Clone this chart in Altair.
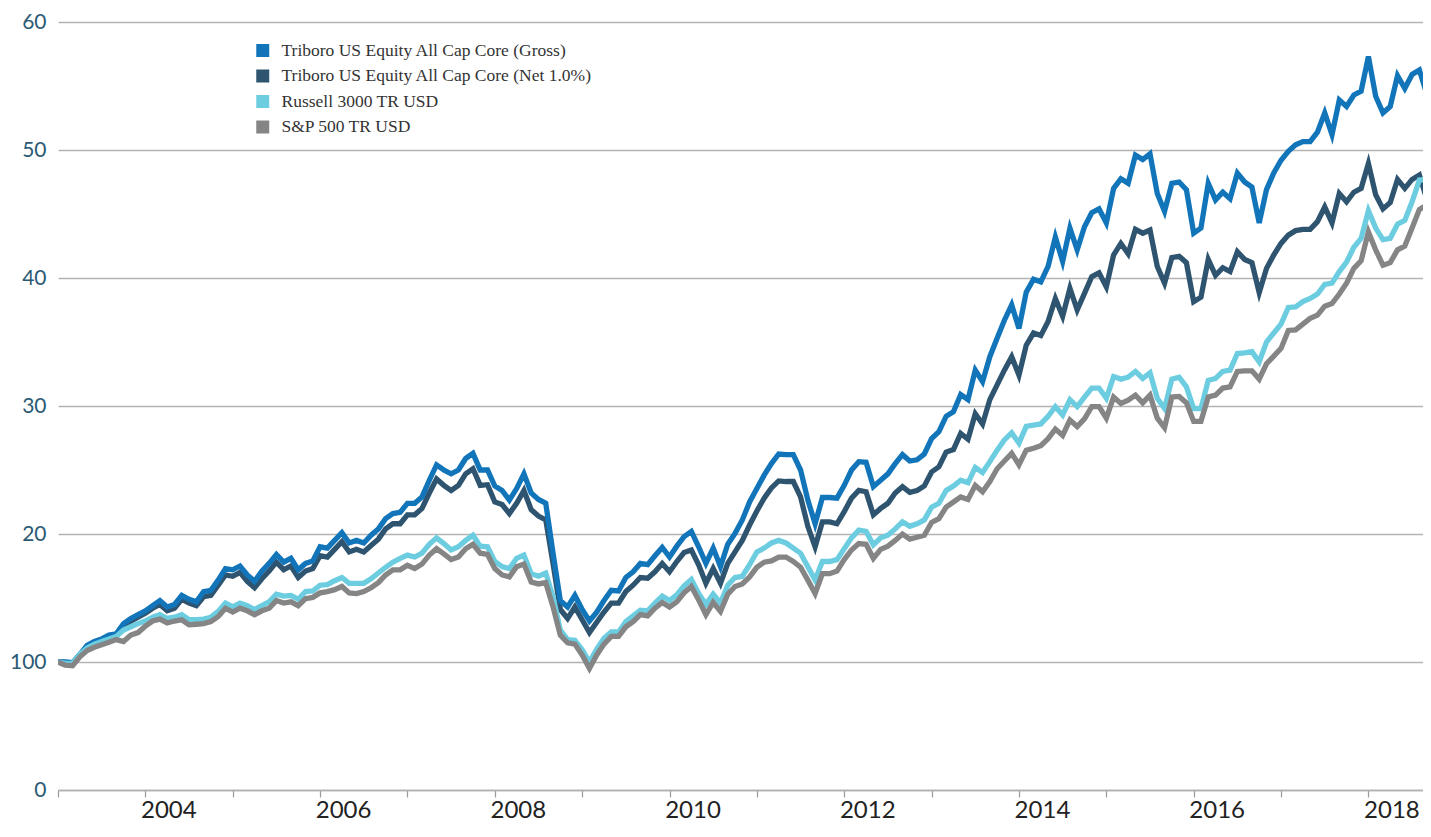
import altair as alt
import pandas as pd

SERIES = [
    "Triboro US Equity All Cap Core (Gross)",
    "Triboro US Equity All Cap Core (Net 1.0%)",
    "Russell 3000 TR USD",
    "S&P 500 TR USD",
]
COLORS = ["#1275ba", "#2e5470", "#6dcde0", "#858585"]
START_YEAR = 2003  # monthly values, first point January 2003

gross = [
    10.0, 10.0, 9.95, 10.6, 11.3, 11.6, 11.8, 12.1, 12.2, 13.0, 13.4, 13.7, 14.0, 14.4, 14.8, 14.3,
    14.5, 15.2, 14.9, 14.7, 15.5, 15.6, 16.4, 17.3, 17.2, 17.5, 16.8, 16.3, 17.1, 17.7, 18.4, 17.8,
    18.1, 17.2, 17.7, 17.9, 19.0, 18.9, 19.5, 20.1, 19.3, 19.5, 19.3, 19.9, 20.4, 21.2, 21.6, 21.7,
    22.4, 22.4, 22.9, 24.2, 25.4, 25.0, 24.7, 25.0, 25.9, 26.3, 25.0, 25.0, 23.75, 23.4, 22.65, 23.55,
    24.7, 23.2, 22.7, 22.4, 18.5, 14.8, 14.3, 15.2, 14.1, 13.2, 13.9, 14.8, 15.6, 15.55, 16.6, 17.05,
    17.7, 17.6, 18.3, 18.95, 18.2, 19.05, 19.8, 20.2, 19.0, 17.7, 18.9, 17.45, 19.2, 20.05, 21.1, 22.5,
    23.55, 24.6, 25.5, 26.25, 26.2, 26.2, 25.0, 22.65, 20.8, 22.85, 22.85, 22.8, 23.8, 25.0, 25.65, 25.6,
    23.7, 24.2, 24.7, 25.5, 26.2, 25.7, 25.8, 26.25, 27.45, 28.0, 29.2, 29.55, 30.9, 30.5, 32.8, 31.9,
    33.85, 35.3, 36.7, 37.9, 36.05, 38.9, 39.9, 39.7, 40.9, 43.2, 41.3, 43.9, 42.2, 44.0,
    45.1, 45.4, 44.3, 47.0, 47.75, 47.4, 49.6, 49.25, 49.7, 46.6, 45.2, 47.4, 47.5, 46.9, 43.5, 43.9,
    47.4, 46.1, 46.7, 46.2, 48.2, 47.5, 47.1, 44.3, 46.9, 48.2, 49.2, 49.9, 50.4, 50.65, 50.65, 51.4,
    52.9, 51.2, 53.9, 53.4, 54.3, 54.6, 57.3, 54.2, 52.9, 53.4, 55.8, 54.8, 55.9, 56.25, 54.4,
]
net = [
    10.0, 9.95, 9.9, 10.5, 11.2, 11.5, 11.7, 11.9, 12.0, 12.8, 13.2, 13.5, 13.8, 14.2, 14.5, 14.0,
    14.2, 14.9, 14.6, 14.4, 15.1, 15.2, 16.0, 16.8, 16.7, 17.0, 16.3, 15.8, 16.5, 17.1, 17.8, 17.2,
    17.5, 16.6, 17.1, 17.3, 18.3, 18.2, 18.8, 19.4, 18.6, 18.8, 18.6, 19.1, 19.6, 20.4, 20.8, 20.8,
    21.5, 21.5, 22.0, 23.2, 24.3, 23.8, 23.4, 23.8, 24.7, 25.1, 23.8, 23.85, 22.5, 22.3, 21.6, 22.4,
    23.4, 21.9, 21.4, 21.1, 17.7, 14.1, 13.4, 14.3, 13.3, 12.3, 13.1, 13.9, 14.6, 14.6, 15.5, 16.0,
    16.6, 16.55, 17.05, 17.7, 17.05, 17.85, 18.55, 18.75, 17.6, 16.15, 17.3, 16.15, 17.7, 18.6, 19.5, 20.7,
    21.8, 22.8, 23.6, 24.15, 24.1, 24.1, 22.9, 20.6, 19.0, 20.95, 20.95, 20.8, 21.75, 22.8, 23.4, 23.3,
    21.5, 22.0, 22.4, 23.2, 23.7, 23.25, 23.4, 23.75, 24.85, 25.25, 26.4, 26.6, 27.85, 27.4, 29.4, 28.6,
    30.5, 31.65, 32.8, 33.85, 32.4, 34.75, 35.7, 35.5, 36.6, 38.4, 37.0, 39.2, 37.5, 38.8,
    40.1, 40.4, 39.3, 41.8, 42.7, 41.9, 43.8, 43.5, 43.75, 40.9, 39.6, 41.6, 41.7, 41.2, 38.15, 38.5,
    41.45, 40.2, 40.8, 40.5, 42.05, 41.45, 41.2, 38.85, 40.75, 41.8, 42.7, 43.35, 43.7, 43.8, 43.8, 44.4,
    45.55, 44.3, 46.6, 45.95, 46.7, 47.0, 48.95, 46.5, 45.4, 45.9, 47.7, 47.0, 47.7, 48.05, 46.2,
]
russell = [
    10.0, 9.9, 9.9, 10.6, 11.1, 11.4, 11.6, 11.8, 12.0, 12.5, 12.75, 13.0, 13.2, 13.5, 13.7, 13.4,
    13.5, 13.7, 13.3, 13.3, 13.35, 13.5, 13.95, 14.6, 14.3, 14.6, 14.4, 14.1, 14.4, 14.7, 15.3, 15.15,
    15.2, 14.9, 15.5, 15.55, 16.0, 16.05, 16.35, 16.6, 16.15, 16.15, 16.15, 16.5, 16.95, 17.4, 17.8, 18.1,
    18.35, 18.2, 18.5, 19.2, 19.7, 19.25, 18.75, 19.0, 19.5, 19.9, 19.05, 19.0, 17.85, 17.45, 17.3, 18.1,
    18.35, 16.9, 16.7, 16.95, 15.1, 12.5, 11.75, 11.7, 10.95, 10.0, 11.0, 11.85, 12.35, 12.35, 13.15, 13.6,
    14.05, 14.0, 14.6, 15.15, 14.8, 15.25, 15.95, 16.45, 15.35, 14.5, 15.3, 14.6, 16.0, 16.6, 16.7, 17.6,
    18.6, 18.9, 19.3, 19.5, 19.3, 18.9, 18.5, 17.45, 16.4, 17.85, 17.85, 18.0, 18.85, 19.7, 20.3, 20.2,
    19.15, 19.7, 19.9, 20.4, 20.95, 20.6, 20.8, 21.1, 22.1, 22.4, 23.4, 23.75, 24.2, 24.0, 25.2, 24.8,
    25.65, 26.55, 27.35, 27.9, 27.1, 28.4, 28.5, 28.6, 29.2, 29.95, 29.3, 30.5, 29.95, 30.7,
    31.4, 31.4, 30.6, 32.3, 32.1, 32.25, 32.7, 32.15, 32.6, 30.6, 29.8, 32.1, 32.25, 31.5, 29.8, 29.8,
    32.0, 32.15, 32.7, 32.8, 34.1, 34.15, 34.25, 33.45, 35.0, 35.7, 36.4, 37.7, 37.75, 38.15, 38.4, 38.75,
    39.5, 39.6, 40.5, 41.25, 42.4, 43.1, 45.25, 43.9, 43.0, 43.1, 44.2, 44.5, 45.95, 47.65, 47.7,
]
sp500 = [
    10.0, 9.75, 9.7, 10.4, 10.9, 11.15, 11.35, 11.55, 11.75, 11.6, 12.1, 12.3, 12.8, 13.2, 13.35, 13.05,
    13.2, 13.3, 12.9, 12.95, 13.0, 13.15, 13.55, 14.2, 13.9, 14.2, 14.0, 13.7, 14.0, 14.2, 14.8, 14.6,
    14.7, 14.4, 14.95, 15.05, 15.4, 15.5, 15.65, 15.9, 15.4, 15.35, 15.5, 15.8, 16.2, 16.8, 17.2, 17.2,
    17.55, 17.3, 17.65, 18.35, 18.85, 18.45, 18.0, 18.2, 18.85, 19.2, 18.5, 18.4, 17.3, 16.8, 16.65, 17.45,
    17.65, 16.25, 16.1, 16.2, 14.3, 12.1, 11.5, 11.4, 10.55, 9.5, 10.55, 11.4, 12.0, 12.0, 12.75, 13.15,
    13.7, 13.6, 14.2, 14.65, 14.3, 14.7, 15.4, 15.9, 14.85, 13.7, 14.65, 13.95, 15.3, 15.9, 16.1, 16.65,
    17.4, 17.8, 17.9, 18.2, 18.2, 17.85, 17.4, 16.4, 15.35, 16.9, 16.9, 17.1, 18.0, 18.75, 19.25, 19.2,
    18.1, 18.8, 19.05, 19.5, 20.0, 19.6, 19.75, 19.9, 20.9, 21.2, 22.1, 22.5, 22.9, 22.7, 23.8, 23.3,
    24.1, 25.1, 25.7, 26.3, 25.4, 26.55, 26.7, 26.9, 27.45, 28.2, 27.7, 28.9, 28.4, 29.0,
    29.95, 29.95, 29.05, 30.7, 30.2, 30.45, 30.85, 30.25, 30.85, 29.05, 28.3, 30.7, 30.75, 30.25, 28.8, 28.8,
    30.7, 30.85, 31.4, 31.5, 32.7, 32.75, 32.75, 32.1, 33.3, 33.9, 34.5, 35.9, 35.95, 36.4, 36.85, 37.1,
    37.8, 38.0, 38.75, 39.6, 40.75, 41.35, 43.6, 42.2, 41.0, 41.2, 42.2, 42.5, 43.9, 45.35, 45.7,
]

X_TICKS = [2003 + 0.5 * k for k in range(32)]
Y_TICKS = [0, 10, 20, 30, 40, 50, 60]

rows = []
for name, vals in zip(SERIES, [gross, net, russell, sp500]):
    for i, v in enumerate(vals):
        rows.append({"series": name, "t": START_YEAR + i / 12.0, "value": v})
df = pd.DataFrame(rows)

PLOT_W = 1365
PX_PER_YEAR = 87.36

x_enc = alt.X(
    "t:Q",
    scale=alt.Scale(domain=[2003, 2003 + PLOT_W / PX_PER_YEAR], nice=False, zero=False),
    axis=alt.Axis(
        values=X_TICKS, format="d", labelExpr="datum.value % 2 == 0 ? datum.label : ''",
        labelOverlap=False, labelFlush=False, labelOffset=23, labelPadding=1,
        labelFont="Lato", labelFontSize=24, labelColor="#222222",
        tickSize=7, tickColor="#9a9a9a", tickWidth=1.2,
        domain=True, domainColor="#b0b0b0", domainWidth=1.5, grid=False, title=None,
    ),
)
y_enc = alt.Y(
    "value:Q",
    scale=alt.Scale(domain=[0, 60], nice=False),
    axis=alt.Axis(
        values=Y_TICKS, labelExpr="datum.value == 10 ? '100' : datum.label",
        labelFont="Lato", labelFontSize=21, labelColor="#2c5a74", labelPadding=12,
        ticks=False, domain=False, grid=True, gridColor="#b3b3b3", gridWidth=1.3, title=None,
    ),
)
color_enc = alt.Color(
    "series:N",
    scale=alt.Scale(domain=SERIES, range=COLORS),
    legend=alt.Legend(
        title=None, orient="none", legendX=196, legendY=20, direction="vertical",
        symbolType="square", symbolSize=42, symbolStrokeWidth=6.5,
        labelFont="Liberation Serif", labelFontSize=17.5, labelColor="#333333",
        labelLimit=600, labelOffset=10, rowPadding=7.5, padding=0, clipHeight=17,
    ),
)

draw_order = [SERIES[1], SERIES[0], SERIES[2], SERIES[3]]
layers = [
    alt.Chart(df)
    .transform_filter(alt.datum.series == s)
    .mark_line(strokeWidth=5.3, strokeJoin="miter", clip=True)
    .encode(x=x_enc, y=y_enc, color=color_enc)
    for s in draw_order
]

chart = (
    alt.layer(*layers)
    .properties(
        width=PLOT_W, height=768,
        autosize=alt.AutoSizeParams(type="none"),
        padding={"left": 50, "top": 14, "right": 0, "bottom": 39},
        background="white",
    )
    .configure_view(stroke=None)
)

chart.save("out.html", embed_options={"renderer": "svg", "actions": False})
